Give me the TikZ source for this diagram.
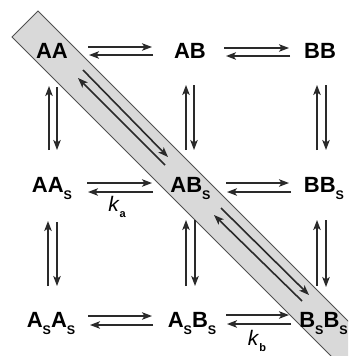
\documentclass[tikz,border=0pt]{standalone}
\usepackage{fontspec}
\setmainfont{Liberation Sans}
\usetikzlibrary{arrows.meta}
\newcommand\subS{\raisebox{-7pt}{\fontsize{12.5}{12.5}\selectfont S}}
\definecolor{bandfill}{HTML}{D9D9D9}
\definecolor{bandline}{HTML}{505050}
\definecolor{arrcol}{HTML}{2A2A2A}
\begin{document}
\begin{tikzpicture}[x=1pt,y=-1pt,
  species/.style={inner sep=0pt, text height=16pt, text depth=0pt,
    font=\fontsize{22}{22}\selectfont\bfseries},
  rate/.style={inner sep=0pt, font=\fontsize{21}{21}\selectfont},
  arr/.style={draw=arrcol, line width=1.6pt,
    -{Stealth[length=10pt,width=7.5pt,inset=2.5pt]}},
  band/.style={fill=bandfill, draw=bandline, line width=0.9pt}]
\useasboundingbox (0,0) rectangle (348,356);
\begin{scope}
\clip (0,0) rectangle (348,356);
\draw[band] (38,11) -- (12,37) -- (400,425) -- (426,399) -- cycle;
\end{scope}
% species
\node[species] (AA)   at (52,50)    {AA};
\node[species] (AB)   at (190,50)   {AB};
\node[species] (BB)   at (320,50)   {BB};
\node[species] (AAs)  at (52,184)   {AA\subS};
\node[species] (ABs)  at (190.5,184){AB\subS};
\node[species] (BBs)  at (324,184)  {BB\subS};
\node[species] (AsAs) at (51,319)   {A\subS A\subS};
\node[species] (AsBs) at (192,319)  {A\subS B\subS};
\node[species] (BsBs) at (323.5,319){B\subS B\subS};
% rate labels
\node[rate] (ka) at (117,207) {\textit{k}\raisebox{-6pt}{\fontsize{11}{11}\selectfont\bfseries a}};
\node[rate] (kb) at (257,341) {\textit{k}\raisebox{-6pt}{\fontsize{11}{11}\selectfont\bfseries b}};
% row 1
\draw[arr] ([shift={(36,-3)}]AA.center) -- ([shift={(-38,-3)}]AB.center);
\draw[arr] ([shift={(-37,5)}]AB.center) -- ([shift={(37,5)}]AA.center);
\draw[arr] ([shift={(34,-2)}]AB.center) -- ([shift={(-31,-2)}]BB.center);
\draw[arr] ([shift={(-30,6)}]BB.center) -- ([shift={(36,6)}]AB.center);
% row 2
\draw[arr] ([shift={(35,-1)}]AAs.center) -- ([shift={(-38.5,-1)}]ABs.center);
\draw[arr] ([shift={(-37.5,8)}]ABs.center) -- ([shift={(36,8)}]AAs.center);
\draw[arr] ([shift={(35.5,-1)}]ABs.center) -- ([shift={(-35,-1)}]BBs.center);
\draw[arr] ([shift={(-33,8)}]BBs.center) -- ([shift={(36.5,8)}]ABs.center);
% row 3
\draw[arr] ([shift={(37,-3)}]AsAs.center) -- ([shift={(-40,-3)}]AsBs.center);
\draw[arr] ([shift={(-39,6)}]AsBs.center) -- ([shift={(39,6)}]AsAs.center);
\draw[arr] ([shift={(34,-4)}]AsBs.center) -- ([shift={(-34.5,-4)}]BsBs.center);
\draw[arr] ([shift={(-32.5,5)}]BsBs.center) -- ([shift={(35,5)}]AsBs.center);
% column 1
\draw[arr] ([shift={(-3,-34)}]AAs.center) -- ([shift={(-3,36)}]AA.center);
\draw[arr] ([shift={(5,37)}]AA.center) -- ([shift={(5,-34)}]AAs.center);
\draw[arr] ([shift={(-3,-33)}]AsAs.center) -- ([shift={(-4,37)}]AAs.center);
\draw[arr] ([shift={(5,38)}]AAs.center) -- ([shift={(6,-33)}]AsAs.center);
% column 2
\draw[arr] ([shift={(-4.5,-34)}]ABs.center) -- ([shift={(-4,35)}]AB.center);
\draw[arr] ([shift={(4,35)}]AB.center) -- ([shift={(3.5,-34)}]ABs.center);
\draw[arr] ([shift={(-6,-33)}]AsBs.center) -- ([shift={(-4.5,36)}]ABs.center);
\draw[arr] ([shift={(4.5,36)}]ABs.center) -- ([shift={(3,-33)}]AsBs.center);
% column 3
\draw[arr] ([shift={(-7,-34)}]BBs.center) -- ([shift={(-3,35)}]BB.center);
\draw[arr] ([shift={(6,35)}]BB.center) -- ([shift={(2,-34)}]BBs.center);
\draw[arr] ([shift={(-6.5,-33)}]BsBs.center) -- ([shift={(-7,36)}]BBs.center);
\draw[arr] ([shift={(2,36)}]BBs.center) -- ([shift={(2.5,-32)}]BsBs.center);
% diagonal
\draw[arr] ([shift={(31,20)}]AA.center) -- ([shift={(-22.5,-27)}]ABs.center);
\draw[arr] ([shift={(-25.5,-19)}]ABs.center) -- ([shift={(26,28)}]AA.center);
\draw[arr] ([shift={(30.5,24)}]ABs.center) -- ([shift={(-14.5,-24)}]BsBs.center);
\draw[arr] ([shift={(-21.5,-18)}]BsBs.center) -- ([shift={(23.5,31)}]ABs.center);
\end{tikzpicture}
\end{document}
